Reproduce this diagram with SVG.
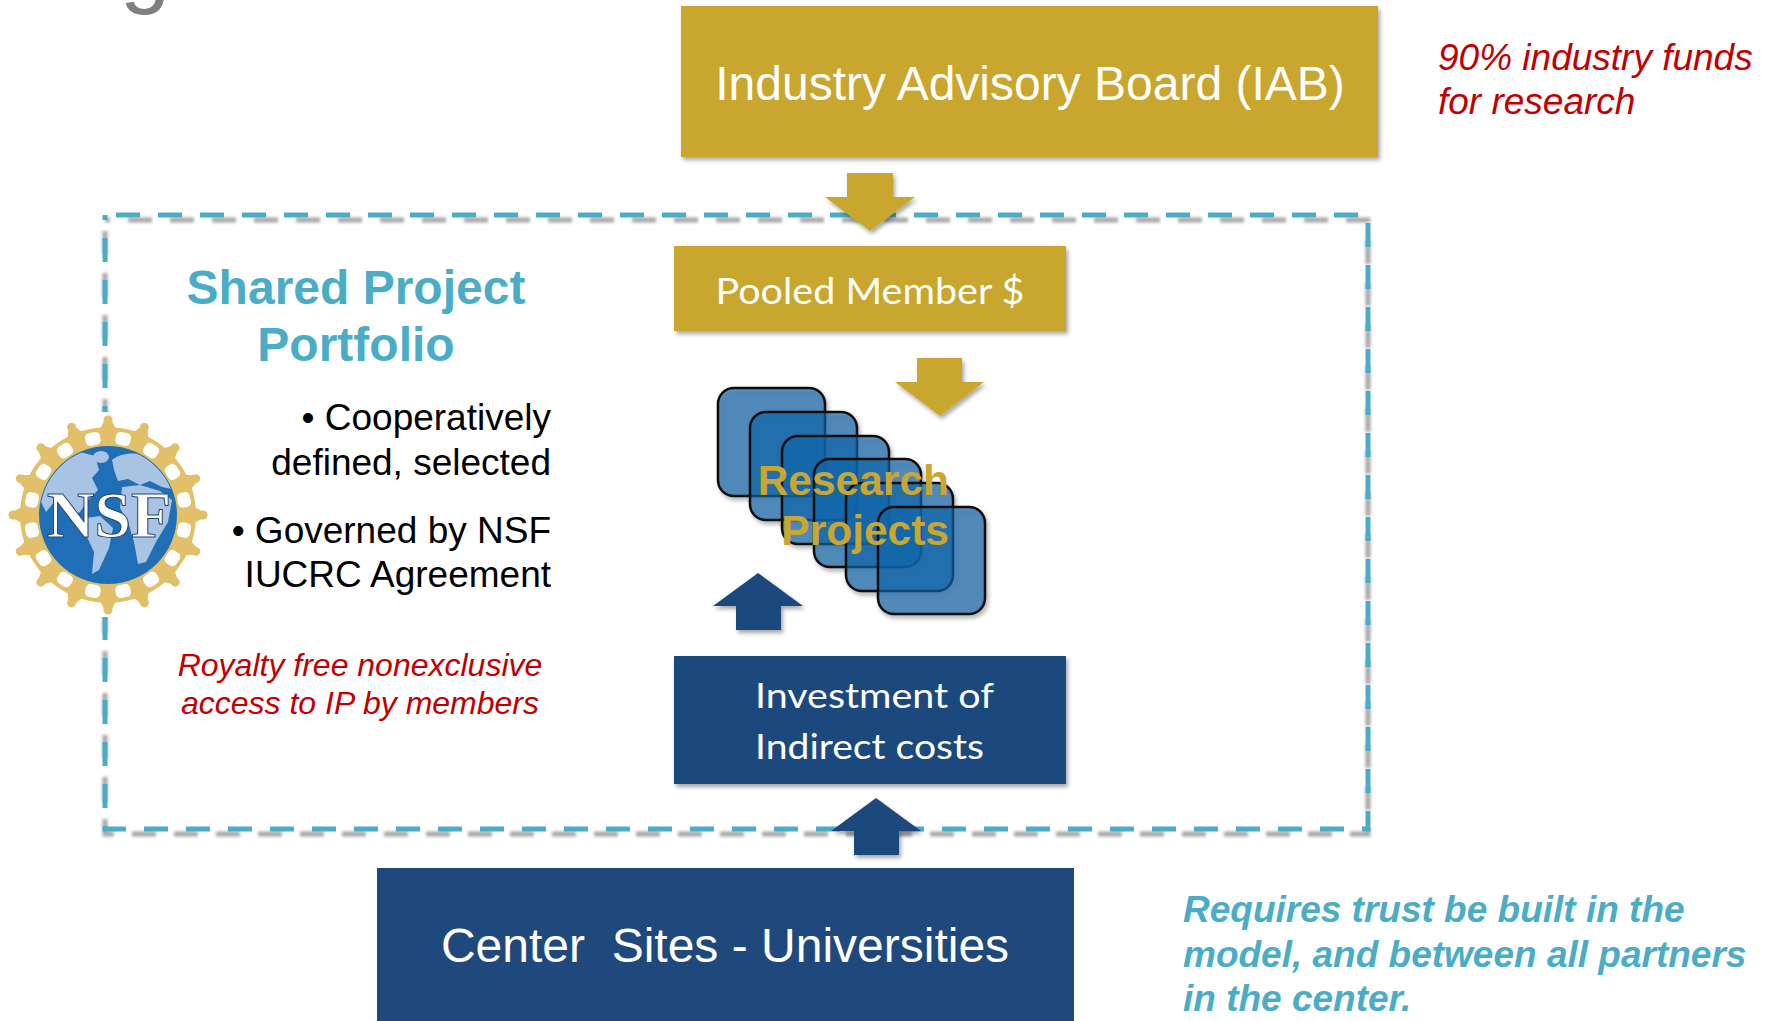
<svg xmlns="http://www.w3.org/2000/svg" width="1774" height="1021" viewBox="0 0 1774 1021">
<style>
  .sans { font-family: "Liberation Sans", Arial, sans-serif; }
  .cal { font-family: Lato, "Open Sans", sans-serif; }
  .gold { fill: #C9A62F; }
  .navy { fill: #1F497D; }
  .wtxt { fill: #FFFFFF; }
  .sq { fill: #0B64A8; fill-opacity: 0.65; stroke: #111111; stroke-width: 2.5; }
  .red { fill: #C00000; font-style: italic; }
  .teal { fill: #4BACC6; }
  .dash { fill: none; stroke: #4BACC6; stroke-width: 5; stroke-dasharray: 24 18; stroke-dashoffset: 31; }
  .dashsh { fill: none; stroke: #8A8A8A; stroke-opacity: 0.75; stroke-width: 5; stroke-dasharray: 24 18; stroke-dashoffset: 19; }
  .blk { fill: #000000; }
  .lgold { fill: #E2C06A; }
</style>
<defs>
  <filter id="sh" x="-10%" y="-10%" width="130%" height="140%">
    <feDropShadow dx="2" dy="3" stdDeviation="2" flood-color="#000" flood-opacity="0.35"/>
  </filter>
  <filter id="blur" x="-5%" y="-5%" width="110%" height="110%">
    <feGaussianBlur stdDeviation="1.6"/>
  </filter>
  <clipPath id="globeClip"><circle cx="108" cy="515" r="68"/></clipPath>
  <g id="figure">
    <polygon points="-9,-84 -3,-96 3,-96 9,-84" class="lgold"/>
    <circle cx="0" cy="-95" r="4.5" class="lgold"/>
  </g>
  <g id="hole">
    <rect x="-7.5" y="-84" width="15" height="13" rx="4.5" fill="#FFFFFF"/>
    <circle cx="0" cy="-97" r="9" fill="#FFFFFF"/>
  </g>
</defs>

<rect x="0" y="0" width="1774" height="1021" fill="#FFFFFF"/>

<!-- cut-off slide title letter -->
<text class="sans" x="120" y="-4" font-size="90" fill="#7F7F7F">g</text>

<!-- dashed portfolio boundary -->
<g id="portfolio-boundary">
  <rect class="dashsh" x="105" y="215" width="1263" height="614" transform="translate(0,5)" filter="url(#blur)"/>
  <rect class="dash" x="105" y="215" width="1263" height="614"/>
</g>

<!-- IAB -->
<g id="iab">
  <rect class="gold" x="681" y="6" width="697" height="151" filter="url(#sh)"/>
  <text class="sans wtxt" x="1030" y="100" font-size="48" text-anchor="middle">Industry Advisory Board (IAB)</text>
</g>

<g id="note-funds">
  <text class="sans red" x="1438" y="70" font-size="37">90% industry funds</text>
  <text class="sans red" x="1438" y="114" font-size="37">for research</text>
</g>

<!-- Shared Project Portfolio -->
<g id="portfolio-title">
  <text class="sans teal" x="356" y="304" font-size="48" font-weight="bold" text-anchor="middle">Shared Project</text>
  <text class="sans teal" x="356" y="361" font-size="48" font-weight="bold" text-anchor="middle">Portfolio</text>
</g>

<g id="bullets">
  <text class="sans blk" x="551" y="430" font-size="37" text-anchor="end">• Cooperatively</text>
  <text class="sans blk" x="551" y="475" font-size="37" text-anchor="end">defined, selected</text>
  <text class="sans blk" x="551" y="543" font-size="37" text-anchor="end">• Governed by NSF</text>
  <text class="sans blk" x="551" y="587" font-size="37" text-anchor="end">IUCRC Agreement</text>
</g>

<g id="note-royalty">
  <text class="sans red" x="360" y="676" font-size="32" text-anchor="middle">Royalty free nonexclusive</text>
  <text class="sans red" x="360" y="714" font-size="32" text-anchor="middle">access to IP by members</text>
</g>

<!-- NSF logo -->
<g id="nsf-logo">
  <rect x="4" y="412" width="208" height="205" fill="#FFFFFF"/>
  <g transform="translate(108,515)">
    <circle cx="0" cy="0" r="88" class="lgold"/>
    <use href="#hole" transform="rotate(11.25)"/>
    <use href="#hole" transform="rotate(33.75)"/>
    <use href="#hole" transform="rotate(56.25)"/>
    <use href="#hole" transform="rotate(78.75)"/>
    <use href="#hole" transform="rotate(101.25)"/>
    <use href="#hole" transform="rotate(123.75)"/>
    <use href="#hole" transform="rotate(146.25)"/>
    <use href="#hole" transform="rotate(168.75)"/>
    <use href="#hole" transform="rotate(191.25)"/>
    <use href="#hole" transform="rotate(213.75)"/>
    <use href="#hole" transform="rotate(236.25)"/>
    <use href="#hole" transform="rotate(258.75)"/>
    <use href="#hole" transform="rotate(281.25)"/>
    <use href="#hole" transform="rotate(303.75)"/>
    <use href="#hole" transform="rotate(326.25)"/>
    <use href="#hole" transform="rotate(348.75)"/>
    <use href="#figure" transform="rotate(0)"/>
    <use href="#figure" transform="rotate(22.5)"/>
    <use href="#figure" transform="rotate(45)"/>
    <use href="#figure" transform="rotate(67.5)"/>
    <use href="#figure" transform="rotate(90)"/>
    <use href="#figure" transform="rotate(112.5)"/>
    <use href="#figure" transform="rotate(135)"/>
    <use href="#figure" transform="rotate(157.5)"/>
    <use href="#figure" transform="rotate(180)"/>
    <use href="#figure" transform="rotate(202.5)"/>
    <use href="#figure" transform="rotate(225)"/>
    <use href="#figure" transform="rotate(247.5)"/>
    <use href="#figure" transform="rotate(270)"/>
    <use href="#figure" transform="rotate(292.5)"/>
    <use href="#figure" transform="rotate(315)"/>
    <use href="#figure" transform="rotate(337.5)"/>
  </g>
  <circle cx="108" cy="515" r="69" fill="#1F6EB6"/>
  <g clip-path="url(#globeClip)" fill="#A8C3E4">
    <path d="M40,500 C44,474 60,456 80,452 L95,456 L99,470 L92,478 L98,490 L88,500 L80,512 L72,516 L66,506 L56,500 L46,512 Z"/>
    <ellipse cx="101" cy="457" rx="8" ry="6"/>
    <path d="M112,460 C126,449 152,452 170,470 L176,490 L162,487 L150,481 L140,485 L128,479 L118,481 L114,470 Z"/>
    <path d="M122,487 L140,485 L160,491 L172,500 L168,522 L156,542 L146,562 L138,564 L134,542 L128,522 L120,508 Z"/>
    <path d="M86,518 L100,516 L113,528 L109,548 L99,570 L92,574 L94,552 L86,535 Z"/>
  </g>
  <text x="109" y="537" font-family="'Liberation Serif', 'Times New Roman', serif" font-size="66" font-weight="bold" text-anchor="middle" fill="#FFFFFF" stroke="#24466E" stroke-width="1">NSF</text>
</g>

<!-- Pooled Member $ -->
<g id="pooled">
  <rect class="gold" x="674" y="246" width="392" height="85" filter="url(#sh)"/>
  <text class="cal wtxt" x="870" y="304" font-size="36" text-anchor="middle" textLength="309" lengthAdjust="spacingAndGlyphs">Pooled Member $</text>
</g>

<!-- Research Projects -->
<g id="research-projects">
  <g filter="url(#sh)">
    <rect class="sq" x="718" y="388" width="107" height="108" rx="16"/>
    <rect class="sq" x="750" y="412" width="107" height="108" rx="16"/>
    <rect class="sq" x="782" y="436" width="107" height="108" rx="16"/>
    <rect class="sq" x="814" y="459" width="107" height="108" rx="16"/>
    <rect class="sq" x="846" y="483" width="107" height="108" rx="16"/>
    <rect class="sq" x="878" y="507" width="107" height="107" rx="16"/>
  </g>
  <text class="sans gold" x="949" y="495" font-size="42.5" font-weight="bold" text-anchor="end">Research</text>
  <text class="sans gold" x="949" y="545" font-size="42.5" font-weight="bold" text-anchor="end">Projects</text>
</g>

<!-- Investment of Indirect costs -->
<g id="investment">
  <rect class="navy" x="674" y="656" width="392" height="128" filter="url(#sh)"/>
  <text class="cal wtxt" x="755" y="708" font-size="35" textLength="239" lengthAdjust="spacingAndGlyphs">Investment of</text>
  <text class="cal wtxt" x="755" y="759" font-size="35" textLength="229" lengthAdjust="spacingAndGlyphs">Indirect costs</text>
</g>

<!-- Center Sites -->
<g id="center-sites">
  <rect class="navy" x="377" y="868" width="697" height="170"/>
  <text class="sans wtxt" x="725" y="962" font-size="48" text-anchor="middle" style="white-space:pre">Center  Sites - Universities</text>
</g>

<g id="note-trust">
  <text class="sans teal" x="1183" y="922" font-size="37" font-weight="bold" font-style="italic">Requires trust be built in the</text>
  <text class="sans teal" x="1183" y="967" font-size="37" font-weight="bold" font-style="italic">model, and between all partners</text>
  <text class="sans teal" x="1183" y="1011" font-size="37" font-weight="bold" font-style="italic">in the center.</text>
</g>

<!-- connectors: block arrows -->
<g id="connectors" filter="url(#sh)">
  <polygon class="gold" points="847,173 893,173 893,197 915,197 870,231 825,197 847,197"/>
  <polygon class="gold" points="917,358 962,358 962,382 984,382 940,416 895,382 917,382"/>
  <polygon class="navy" points="758,573 803,606 781,606 781,630 736,630 736,606 713,606"/>
  <polygon class="navy" points="876,798 921,831 899,831 899,855 854,855 854,831 831,831"/>
</g>
</svg>
